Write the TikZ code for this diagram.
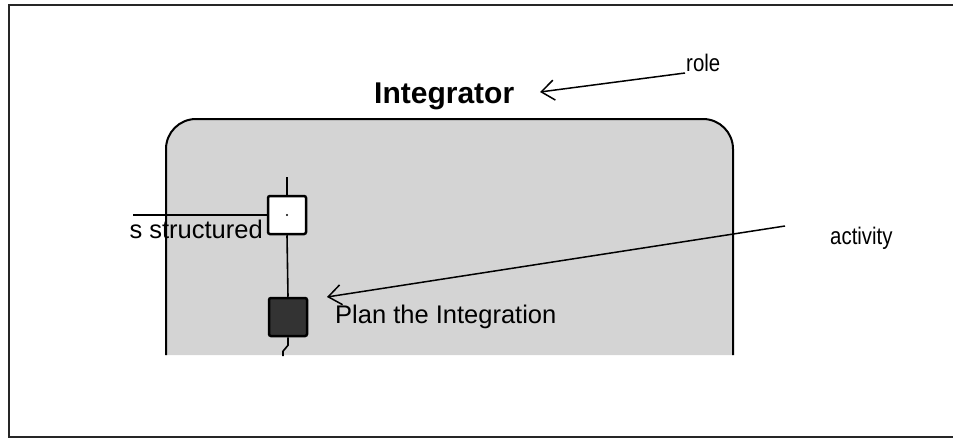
\documentclass[tikz,border=0pt]{standalone}
\usepackage{fontspec}
\setmainfont{Liberation Sans}
\newfontfamily\narrowfont[FakeStretch=0.85]{Liberation Sans}
\usetikzlibrary{arrows.meta, positioning}

\begin{document}
\begin{tikzpicture}[
    x=1pt, y=-1pt,
    frame/.style={draw=black!85, line width=2.5pt},
    lane/.style={draw=black, line width=2pt, fill=black!17},
    flowbox/.style={draw=black, line width=2.5pt, minimum size=38pt, inner sep=0pt, rounded corners=2pt},
    startbox/.style={flowbox, fill=white},
    actbox/.style={flowbox, fill=black!80},
    flow/.style={line width=1.6pt},
    note/.style={-{Straight Barb[length=13pt, width=20pt, line width=1.5pt]}, line width=1.5pt},
    lbl/.style={font=\fontsize{25.5}{28}\selectfont, inner sep=0pt},
    notelbl/.style={font=\narrowfont\fontsize{24}{26}\selectfont, inner sep=0pt}
]
\useasboundingbox (0,0) rectangle (953,439);

% Outer frame, open to the right
\draw[frame] (953,5) -- (9,5) -- (9,437) -- (953,437);

% Swimlane of the role
\draw[lane, rounded corners=30pt] (166,355) -- (166,119) -- (733,119) -- (733,355);
\node[font=\bfseries\fontsize{30}{32}\selectfont, inner sep=0pt, anchor=base west] (rolename) at (374,103) {Integrator};

% Flow
\node[startbox] (start) at (287,215) {};
\fill (start.center) circle (1.2pt);
\node[actbox] (plan) at (288,317) {};
\coordinate (flowtop) at (287,177);
\coordinate (flowin) at (133,215);
\coordinate (flowout) at (283,356);
\draw[flow] (flowtop) -- (start.north);
\draw[flow] (flowin) -- (start.west);
\draw[flow] (start.south) -- (plan.north);
\draw[flow] (plan.south) -- ++(0,8) -- ++(-5,6) -- (flowout);

\node[lbl, anchor=base east] (prevtext) at (263,238) {s structured};
\node[lbl, anchor=base west] (plantext) at (335,323) {Plan the Integration};

% Notes
\node[notelbl, anchor=base west] (rolelbl) at (686,71) {role};
\node[notelbl, anchor=base west] (actlbl) at (830,244) {activity};
\coordinate (roletail) at (685,73);
\coordinate (roletip) at (540,92);
\coordinate (acttail) at (785,226);
\coordinate (acttip) at (327,297);
\draw[note] (roletail) -- (roletip);
\draw[note] (acttail) -- (acttip);

\end{tikzpicture}
\end{document}
